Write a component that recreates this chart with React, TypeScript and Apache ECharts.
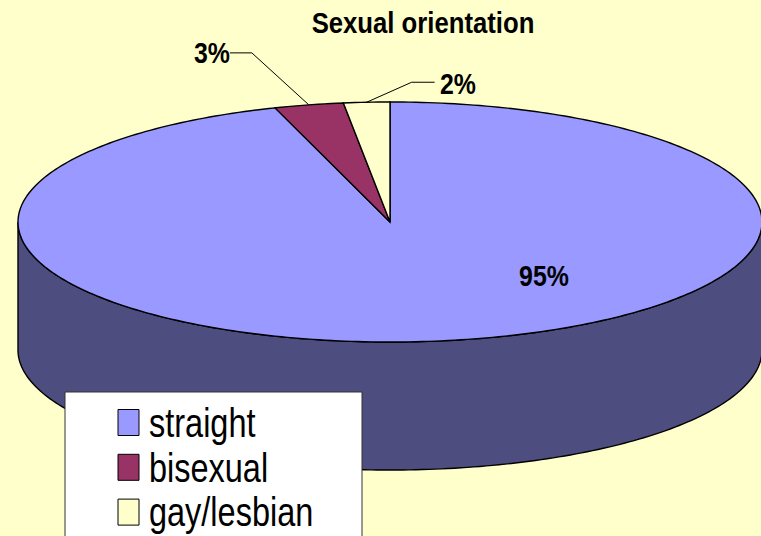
import React, { useEffect, useRef } from "react";
import * as echarts from "echarts";

const titleText = "Sexual orientation";
const categories = ["straight", "bisexual", "gay/lesbian"];
const values = [95, 3, 2];
const labels = ["95%", "3%", "2%"];
const colors = ["#9999FF", "#993366", "#FFFFCC"];
const wallColor = "#4D4D7F";
const background = "#FFFFCC";
const font = '"Liberation Sans", Arial, sans-serif';
const narrow = 0.83;
const narrowTitle = 0.857;
const narrowLegend = 0.812;

const cx = 390;
const cy = 222;
const rx = 372;
const ry = 120;
const depth = 128;

const total = values.reduce((a, b) => a + b, 0);
const at = (frac: number, dy = 0): number[] => {
  const a = frac * Math.PI * 2;
  return [cx + rx * Math.sin(a), cy - ry * Math.cos(a) + dy];
};
const arc = (f0: number, f1: number, dy = 0): number[][] => {
  const n = Math.max(4, Math.ceil((f1 - f0) * 360));
  const pts: number[][] = [];
  for (let i = 0; i <= n; i++) pts.push(at(f0 + ((f1 - f0) * i) / n, dy));
  return pts;
};

const lineStyle = { stroke: "#000", lineWidth: 1.4 };

// leader lines: elbow and end, as offsets from the slice's arc midpoint
const leaders: Record<number, number[][]> = {
  1: [[-57, -52], [-79, -52]],
  2: [[45, -20], [68, -20]],
};
const labelPos: Record<number, number[]> = {
  0: [544, 276],
  1: [212, 53],
  2: [458, 84],
};

const makeSeries = (idx: number) => ({
  type: "custom",
  name: categories[idx],
  coordinateSystem: "none",
  silent: true,
  z: 2 + (idx === 0 ? 0 : 1),
  itemStyle: { color: colors[idx] },
  data: [values[idx]],
  renderItem: () => {
    const before = values.slice(0, idx).reduce((a, b) => a + b, 0);
    const f0 = before / total;
    const f1 = (before + values[idx]) / total;
    const children: any[] = [];
    if (idx === 0) {
      // visible front wall spans the lower half of the rim
      const top = arc(0.25, 0.75);
      const bottom = arc(0.25, 0.75, depth).reverse();
      children.push({
        type: "polygon",
        shape: { points: [...top, ...bottom] },
        style: { fill: wallColor, ...lineStyle },
      });
    }
    children.push({
      type: "polygon",
      shape: { points: [[cx, cy], ...arc(f0, f1)] },
      style: { fill: colors[idx], ...lineStyle },
    });
    const mid = at((f0 + f1) / 2);
    if (leaders[idx]) {
      children.push({
        type: "polyline",
        shape: { points: [mid, ...leaders[idx].map((o) => [mid[0] + o[0], mid[1] + o[1]])] },
        style: { fill: "none", stroke: "#000", lineWidth: 1 },
      });
    }
    children.push({
      type: "text",
      x: labelPos[idx][0],
      y: labelPos[idx][1],
      scaleX: narrow,
      style: {
        text: labels[idx],
        fill: "#000",
        font: `bold 30px ${font}`,
        textAlign: "center",
        textVerticalAlign: "middle",
      },
      z2: 10,
    });
    return { type: "group", children };
  },
});

const legendElements = () => {
  const els: any[] = [
    {
      type: "rect",
      shape: { x: 65, y: 392, width: 297, height: 160 },
      style: { fill: "#fff", stroke: "#333", lineWidth: 1 },
      z: 10,
    },
  ];
  categories.forEach((name, i) => {
    els.push({
      type: "rect",
      shape: { x: 118, y: 409.5 + i * 44.8, width: 21, height: 26 },
      style: { fill: colors[i], stroke: "#000", lineWidth: 1 },
      z: 11,
    });
    els.push({
      type: "text",
      x: 149,
      y: 423 + i * 44.8,
      scaleX: narrowLegend,
      style: {
        text: name,
        fill: "#000",
        font: `40px ${font}`,
        textAlign: "left",
        textVerticalAlign: "middle",
      },
      z: 11,
    });
  });
  return els;
};

export default function App() {
  const ref = useRef<HTMLDivElement>(null);
  useEffect(() => {
    const chart = echarts.init(ref.current!, undefined, { renderer: "svg" });
    chart.setOption({
      animation: false,
      backgroundColor: background,
      graphic: {
        elements: [
          {
            type: "text",
            x: 423,
            y: 23,
            scaleX: narrowTitle,
            style: {
              text: titleText,
              fill: "#000",
              font: `bold 30px ${font}`,
              textAlign: "center",
              textVerticalAlign: "middle",
            },
            z: 11,
          },
          ...legendElements(),
        ],
      },
      series: [0, 1, 2].map(makeSeries),
    });
    return () => chart.dispose();
  }, []);
  return <div ref={ref} style={{ position: "absolute", left: 0, top: 0, width: 761, height: 536 }} />;
}
